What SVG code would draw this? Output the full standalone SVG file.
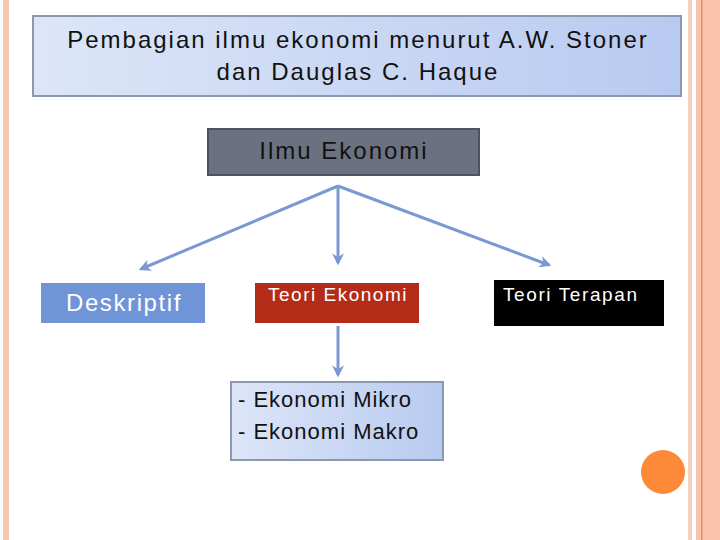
<svg xmlns="http://www.w3.org/2000/svg" width="720" height="540" viewBox="0 0 720 540">
<defs>
<linearGradient id="lb" x1="0" y1="0" x2="1" y2="0">
<stop offset="0" stop-color="#dde6f8"/>
<stop offset="1" stop-color="#b8caf0"/>
</linearGradient>
<marker id="ah" viewBox="0 0 10 10" refX="8" refY="5" markerWidth="4" markerHeight="4" orient="auto">
<path d="M0,0 L10,5 L0,10 L3,5 z" fill="#7a98d2"/>
</marker>
<style>
.t{font-family:"Liberation Sans",Arial,sans-serif;}
.c{stroke:#7a98d2;stroke-width:3;fill:none;marker-end:url(#ah);}
</style>
</defs>
<rect width="720" height="540" fill="#ffffff"/>
<g id="frame">
<rect x="3" y="0" width="6" height="540" fill="#f9c6b2"/>
<rect x="688" y="0" width="4" height="540" fill="#f9cdbc"/>
<rect x="696" y="0" width="24" height="540" fill="#fbc2ab"/>
<rect x="701" y="0" width="1.5" height="540" fill="#e0916c"/>
</g>
<g id="title">
<rect x="33" y="16" width="648" height="80" fill="url(#lb)" stroke="#8b98b0" stroke-width="2"/>
<text class="t" x="358" y="48" font-size="24" letter-spacing="2" text-anchor="middle" fill="#111">Pembagian ilmu ekonomi menurut A.W. Stoner</text>
<text class="t" x="358" y="80" font-size="24" letter-spacing="2" text-anchor="middle" fill="#111">dan Dauglas C. Haque</text>
</g>
<g id="ilmu">
<rect x="208" y="129" width="271" height="46" fill="#6b7180" stroke="#4c5262" stroke-width="2"/>
<text class="t" x="344" y="159" font-size="24" letter-spacing="2" text-anchor="middle" fill="#111">Ilmu Ekonomi</text>
</g>
<g id="connectors">
<path class="c" d="M338,186 L141,269"/>
<path class="c" d="M338,186 L338,263"/>
<path class="c" d="M338,186 L549,265"/>
<path class="c" d="M338,326 L338,375"/>
</g>
<g id="deskriptif">
<rect x="41" y="283" width="164" height="40" fill="#7094d8"/>
<text class="t" x="124" y="311" font-size="24" letter-spacing="1.6" text-anchor="middle" fill="#fff">Deskriptif</text>
</g>
<g id="teori-ekonomi">
<rect x="255" y="283" width="164" height="40" fill="#b42c17"/>
<text class="t" x="338" y="301" font-size="19" letter-spacing="1.5" text-anchor="middle" fill="#fff">Teori Ekonomi</text>
</g>
<g id="teori-terapan">
<rect x="494" y="280" width="170" height="46" fill="#000"/>
<text class="t" x="503" y="301" font-size="19" letter-spacing="1.6" fill="#fff">Teori Terapan</text>
</g>
<g id="mikro-makro">
<rect x="231" y="382" width="212" height="78" fill="url(#lb)" stroke="#8b98b0" stroke-width="2"/>
<text class="t" x="238" y="407" font-size="22" letter-spacing="1" fill="#111">- Ekonomi Mikro</text>
<text class="t" x="238" y="439" font-size="22" letter-spacing="1" fill="#111">- Ekonomi Makro</text>
</g>
<g id="dot">
<circle cx="663" cy="472" r="22" fill="#fd8a38"/>
</g>
</svg>
